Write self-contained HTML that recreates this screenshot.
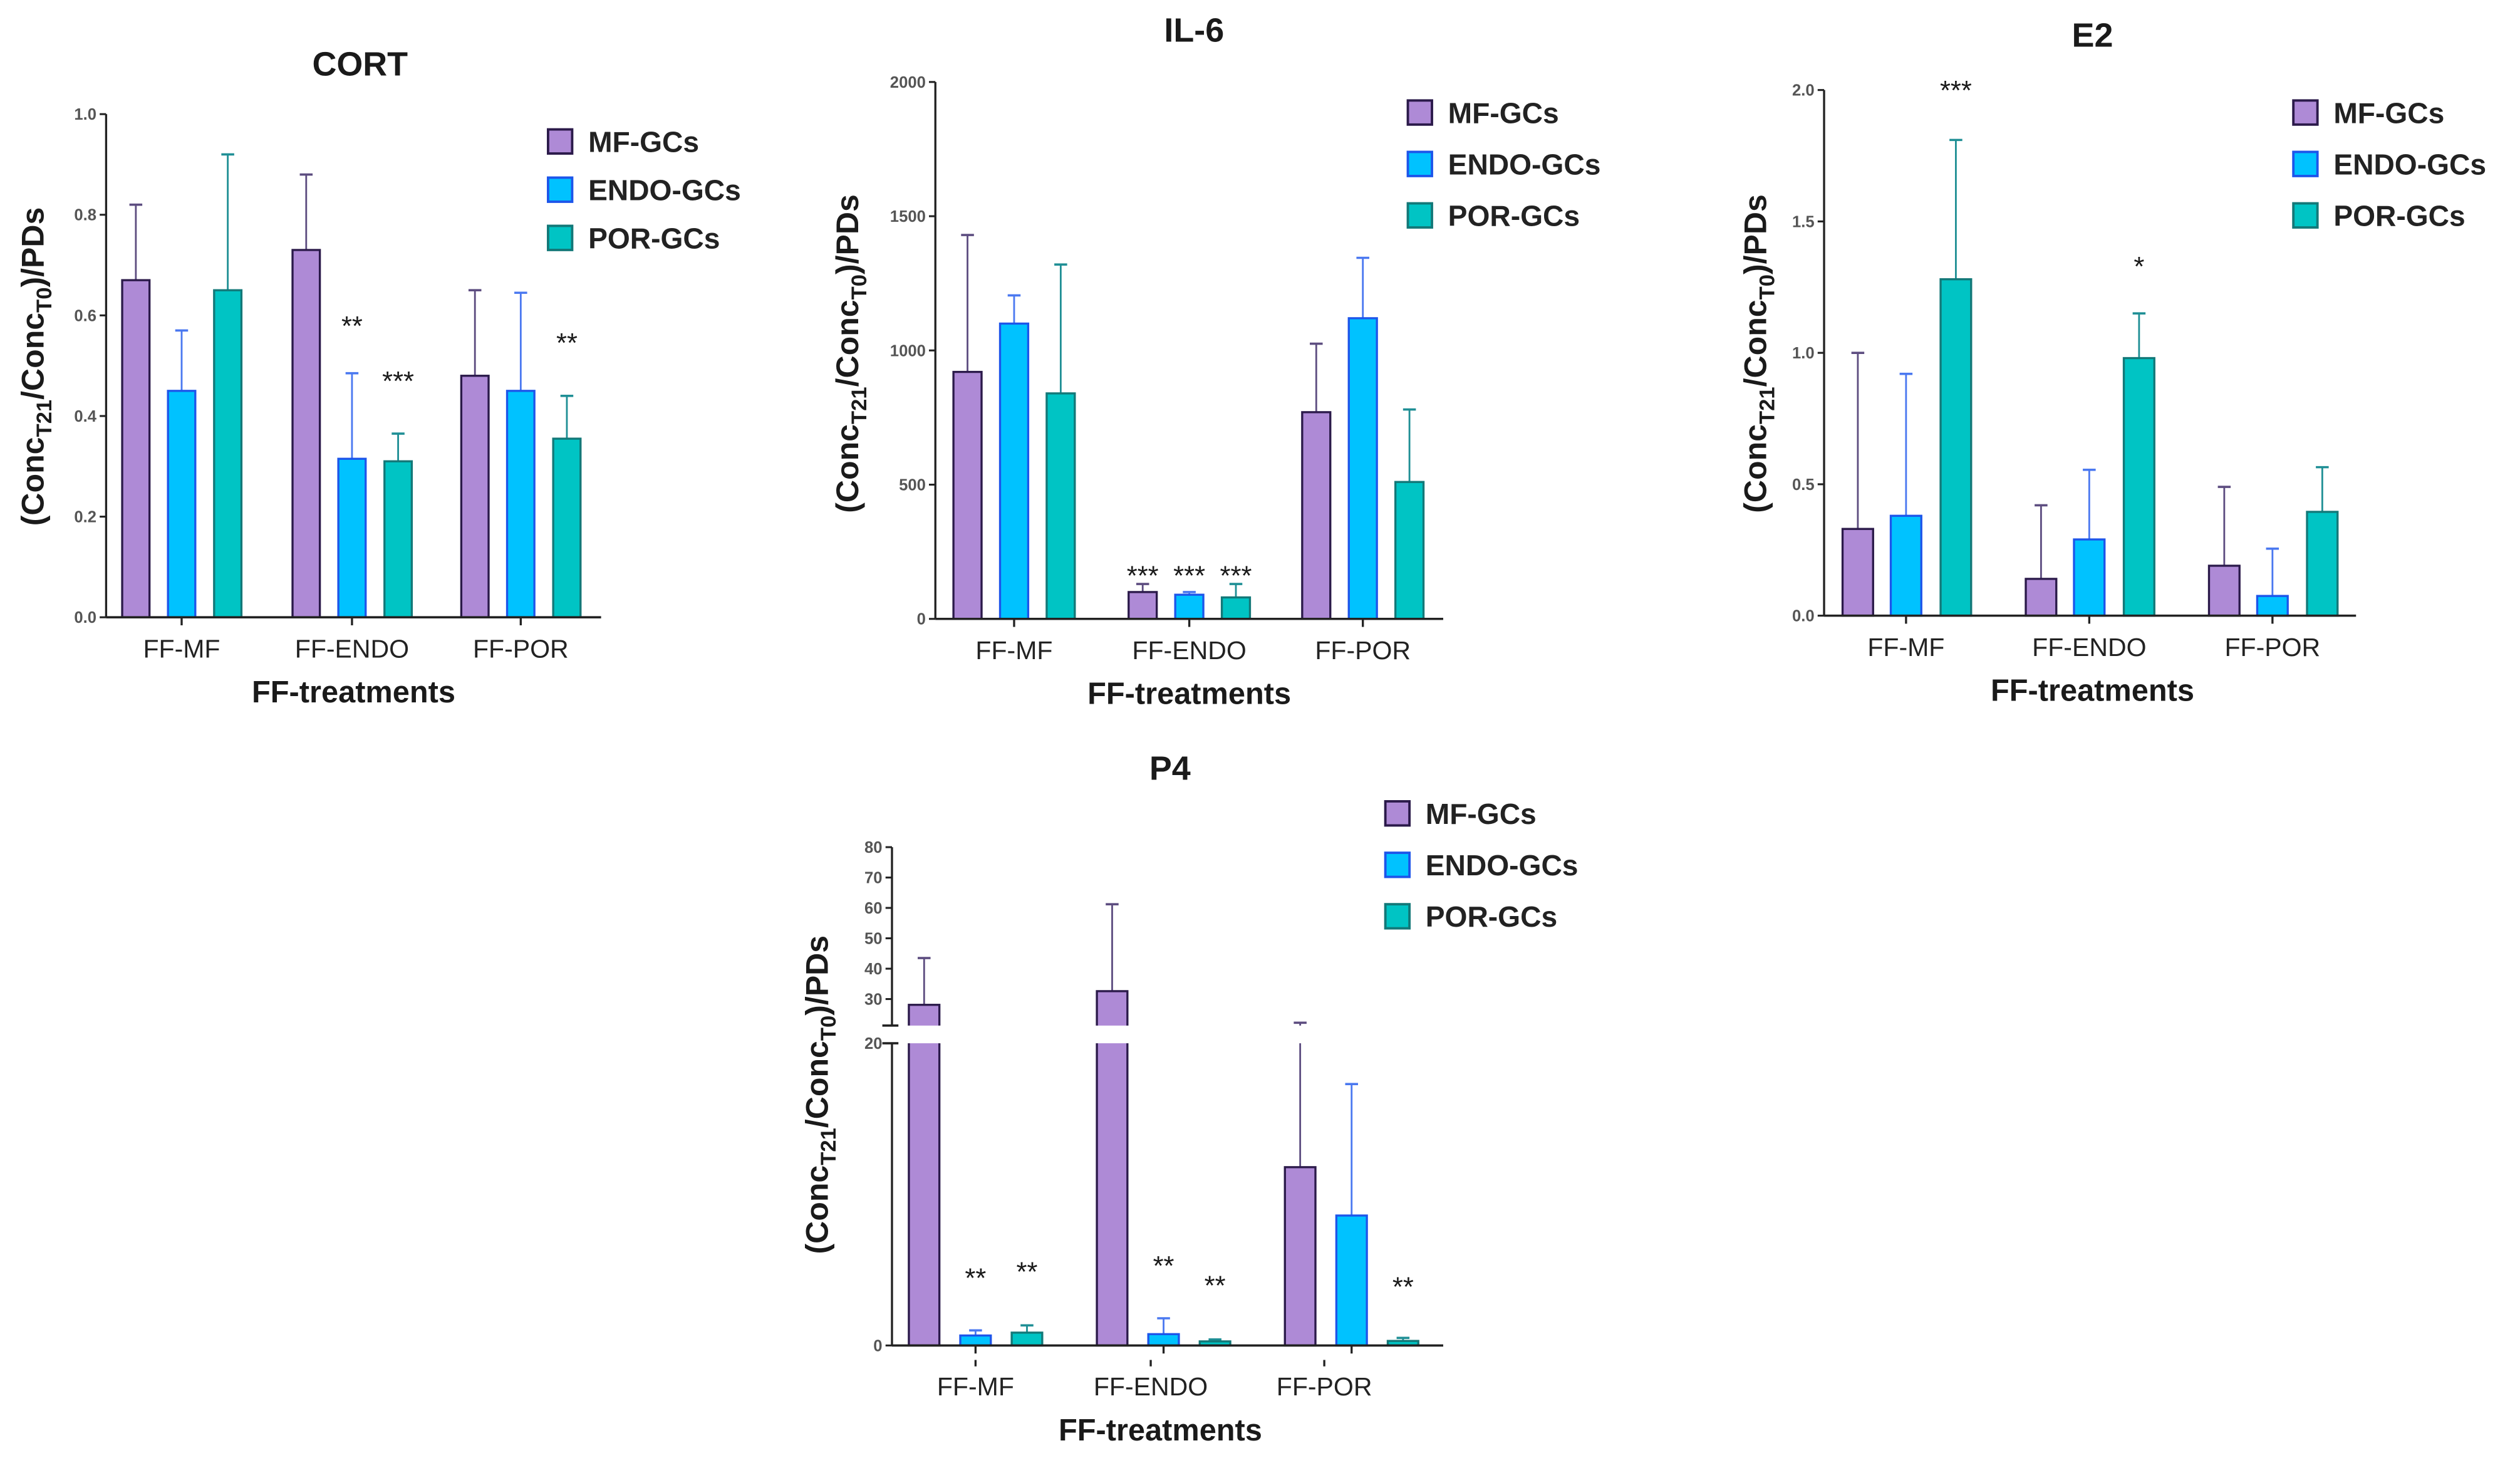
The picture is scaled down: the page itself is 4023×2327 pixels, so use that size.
<!DOCTYPE html>
<html><head><meta charset="utf-8"><style>
html,body{margin:0;padding:0;background:#fff;}
svg{display:block;}
text{font-family:"Liberation Sans",Arial,sans-serif;}
</style></head><body>
<svg id="fig" width="4023" height="2327" viewBox="0 0 1568 907" xmlns="http://www.w3.org/2000/svg"></svg>
<script>
const categories = ["FF-MF","FF-ENDO","FF-POR"];
const seriesNames = ["MF-GCs","ENDO-GCs","POR-GCs"];

const cortMF = [0.67,0.73,0.48];
const cortENDO = [0.45,0.315,0.45];
const cortPOR = [0.65,0.31,0.355];
const cortErrMF = [0.82,0.88,0.65];
const cortErrENDO = [0.57,0.485,0.645];
const cortErrPOR = [0.92,0.365,0.44];
const cortStars = [["","",""],["","**","***"],["","","**"]];
const cortStarLevel = [[0,0,0],[0,0.58,0.47],[0,0,0.546]];
const cortTicks = [0,0.2,0.4,0.6,0.8,1.0];
const cortTickLabels = ["0.0","0.2","0.4","0.6","0.8","1.0"];

const il6MF = [920,100,770];
const il6ENDO = [1100,90,1120];
const il6POR = [840,80,510];
const il6ErrMF = [1430,130,1025];
const il6ErrENDO = [1205,100,1345];
const il6ErrPOR = [1320,130,780];
const il6Stars = [["","",""],["***","***","***"],["","",""]];
const il6StarLevel = [[0,0,0],[162,162,162],[0,0,0]];
const il6Ticks = [0,500,1000,1500,2000];
const il6TickLabels = ["0","500","1000","1500","2000"];

const e2MF = [0.33,0.14,0.19];
const e2ENDO = [0.38,0.29,0.075];
const e2POR = [1.28,0.98,0.395];
const e2ErrMF = [1.0,0.42,0.49];
const e2ErrENDO = [0.92,0.555,0.255];
const e2ErrPOR = [1.81,1.15,0.565];
const e2Stars = [["","","***"],["","","*"],["","",""]];
const e2StarLevel = [[0,0,2.0],[0,0,1.33],[0,0,0]];
const e2Ticks = [0,0.5,1.0,1.5,2.0];
const e2TickLabels = ["0.0","0.5","1.0","1.5","2.0"];

const p4MF = [28.1,32.6,11.8];
const p4ENDO = [0.66,0.75,8.6];
const p4POR = [0.85,0.27,0.3];
const p4ErrMF = [43.5,61.2,22.2];
const p4ErrENDO = [1.0,1.8,17.3];
const p4ErrPOR = [1.33,0.4,0.5];
const p4Stars = [["","**","**"],["","**","**"],["","","**"]];
const p4StarLevel = [[0,4.5,4.9],[0,5.3,4.0],[0,0,3.9]];
const p4TicksLow = [0,20];
const p4TicksHigh = [30,40,50,60,70,80];
const p4TickLabelsLow = ["0","20"];
const p4TickLabelsHigh = ["30","40","50","60","70","80"];

const NS = "http://www.w3.org/2000/svg";
const svg = document.getElementById("fig");
const fills = ["#ae8ad6","#00c2ff","#00c4c4"];
const strokes = ["#2b1a4a","#1d55ea","#137878"];
const errCols = ["#5d4d80","#4a78f0","#1f8f95"];

function mk(tag, attrs, parent){
  const e = document.createElementNS(NS, tag);
  for (const k in attrs) e.setAttribute(k, attrs[k]);
  (parent||svg).appendChild(e);
  return e;
}
function txt(parent, x, y, s, size, weight, anchor, fill){
  const t = mk("text", {x:x, y:y, "font-size":size, "font-weight":weight||"normal", "text-anchor":anchor||"middle", fill:fill||"#1a1a1a"}, parent);
  t.textContent = s;
  return t;
}
function ylabel(parent, cx, cy){
  const t = mk("text", {transform:"translate("+cx+","+cy+") rotate(-90)", "font-size":19.5, "font-weight":"bold", "text-anchor":"middle", fill:"#1a1a1a"}, parent);
  
  
  const parts = [["(Conc",0,19.5],["T21",5,13.5],["/Conc",-5,19.5],["T0",5,13.5],[")/PDs",-5,19.5]];
  parts.forEach(p=>{ const s = mk("tspan", {dy:p[1], "font-size":p[2]}, t); s.textContent = p[0]; });
}

function panel(cfg){
  const g = mk("g", {});
  
  
  const y = cfg.y;
  const title = txt(g, cfg.titleX, cfg.titleY, cfg.title, 21, "bold");
  
  
  const series = cfg.means, errs = cfg.errs;
  for (let s=0; s<3; s++){
    for (let c=0; c<3; c++){
      const cx = cfg.groupX[c] + cfg.offsets[s];
      const v = series[s][c], ev = errs[s][c];
      const top = y(v), base = cfg.y0;
      const el = mk("line", {x1:cx, x2:cx, y1:top, y2:y(ev), stroke:errCols[s], "stroke-width":1.1}, g);
      
      
      const cap = mk("line", {x1:cx-4, x2:cx+4, y1:y(ev), y2:y(ev), stroke:errCols[s], "stroke-width":1.4}, g);
      
      
      const r = mk("rect", {x:cx-cfg.bw/2, y:top, width:cfg.bw, height:Math.max(0, base-top), fill:fills[s], stroke:strokes[s], "stroke-width":1.3}, g);
      
      
      const st = cfg.stars[c][s];
      if (st){
        const t = txt(g, cx, y(cfg.starLevel[c][s]) + 6, st, 17, "normal");
        
        
      }
    }
  }
  if (cfg.breakBand){
    const b = mk("rect", {x:cfg.axisX+1, y:cfg.breakBand[0], width:cfg.xEnd-cfg.axisX, height:cfg.breakBand[1]-cfg.breakBand[0], fill:"#fff"}, g);
    
    
  }
  cfg.axisSegs.forEach(sg=>{
    const a = mk("line", {x1:cfg.axisX, x2:cfg.axisX, y1:sg[0], y2:sg[1], stroke:"#222", "stroke-width":1.3}, g);
    
    
  });
  cfg.ticks.forEach((tv,i)=>{
    const ty = y(tv);
    mk("line", {x1:cfg.axisX-4, x2:cfg.axisX, y1:ty, y2:ty, stroke:"#222", "stroke-width":1.2}, g);
    const t = txt(g, cfg.axisX-6, ty+3.5, cfg.tickLabels[i], 10, "bold", "end", "#555");
    
    
  });
  const xa = mk("line", {x1:cfg.axisX, x2:cfg.xEnd, y1:cfg.y0, y2:cfg.y0, stroke:"#222", "stroke-width":1.4}, g);
  
  
  const lo = cfg.labelOff || 25, to = cfg.titleOff || 53;
  categories.forEach((c,i)=>{
    const tx = cfg.tickX ? cfg.tickX[i] : cfg.groupX[i];
    mk("line", {x1:tx, x2:tx, y1:cfg.y0, y2:cfg.y0+5, stroke:"#222", "stroke-width":1.3}, g);
    const lx = cfg.labelX ? cfg.labelX[i] : cfg.groupX[i];
    if (cfg.labelDash) mk("line", {x1:lx, x2:lx, y1:cfg.y0+9, y2:cfg.y0+13, stroke:"#222", "stroke-width":1.3}, g);
    const t = txt(g, lx, cfg.y0+lo, c, 16, "normal", "middle", "#222");
    
    
  });
  const xt = txt(g, cfg.xTitleX, cfg.y0+to, "FF-treatments", 19, "bold");
  
  
  ylabel(g, cfg.ylabX, cfg.ylabY);
  seriesNames.forEach((n,i)=>{
    const ly = cfg.legY + i*cfg.legGap;
    const sq = mk("rect", {x:cfg.legX, y:ly-7.5, width:15, height:15, fill:fills[i], stroke:strokes[i], "stroke-width":1.5}, g);
    
    
    const t = txt(g, cfg.legX+25, ly+6.5, n, 18, "bold", "start", "#222");
    
    
  });
  return g;
}

function lin(y0, yTop, vTop){ return v => y0 - v/vTop*(y0-yTop); }

panel({name:"cort", title:"CORT", titleX:224, titleY:47, y:lin(384,71,1.0), y0:384,
  axisX:66, xEnd:374, axisSegs:[[71,384]], groupX:[113,219,324], offsets:[-28.5,0,28.7], bw:17,
  means:[cortMF,cortENDO,cortPOR], errs:[cortErrMF,cortErrENDO,cortErrPOR],
  stars:cortStars, starLevel:cortStarLevel, ticks:cortTicks, tickLabels:cortTickLabels,
  xTitleX:220, ylabX:27, ylabY:228, legX:341, legY:88, legGap:30});

panel({name:"il6", title:"IL-6", titleX:743, titleY:26, y:lin(385,51,2000), y0:385,
  axisX:582, xEnd:898, axisSegs:[[51,385]], groupX:[631,740,848], offsets:[-29,0,29], bw:17.5,
  means:[il6MF,il6ENDO,il6POR], errs:[il6ErrMF,il6ErrENDO,il6ErrPOR],
  stars:il6Stars, starLevel:il6StarLevel, ticks:il6Ticks, tickLabels:il6TickLabels,
  xTitleX:740, ylabX:534, ylabY:220, legX:876, legY:70, legGap:32});

panel({name:"e2", title:"E2", titleX:1302, titleY:29, y:lin(383,56,2.0), y0:383,
  axisX:1135, xEnd:1466, axisSegs:[[56,383]], groupX:[1186,1300,1414], offsets:[-30,0,31], bw:19,
  means:[e2MF,e2ENDO,e2POR], errs:[e2ErrMF,e2ErrENDO,e2ErrPOR],
  stars:e2Stars, starLevel:e2StarLevel, ticks:e2Ticks, tickLabels:e2TickLabels,
  xTitleX:1302, ylabX:1099, ylabY:220, legX:1427, legY:70, legGap:32});

const p4y = v => v <= 20.5 ? 837 - v*9.4 : 621.5 - (v-30)*1.89;
panel({name:"p4", title:"P4", titleX:728, titleY:485, y:p4y, y0:837,
  axisX:555, xEnd:898, axisSegs:[[527,638],[649,837]], groupX:[607,724,841], offsets:[-32,0,32], bw:19,
  tickX:[607,724,841], labelX:[607,716,824], labelDash:true, labelOff:31, titleOff:59, breakBand:[638,649],
  means:[p4MF,p4ENDO,p4POR], errs:[p4ErrMF,p4ErrENDO,p4ErrPOR],
  stars:p4Stars, starLevel:p4StarLevel, ticks:p4TicksLow.concat(p4TicksHigh), tickLabels:p4TickLabelsLow.concat(p4TickLabelsHigh),
  xTitleX:722, ylabX:515, ylabY:681, legX:862, legY:506, legGap:32});
[638,649].forEach(by=>{
  const m = mk("line", {x1:549, x2:559, y1:by, y2:by, stroke:"#222", "stroke-width":1.4});
  
  
});
</script>
</body></html>
